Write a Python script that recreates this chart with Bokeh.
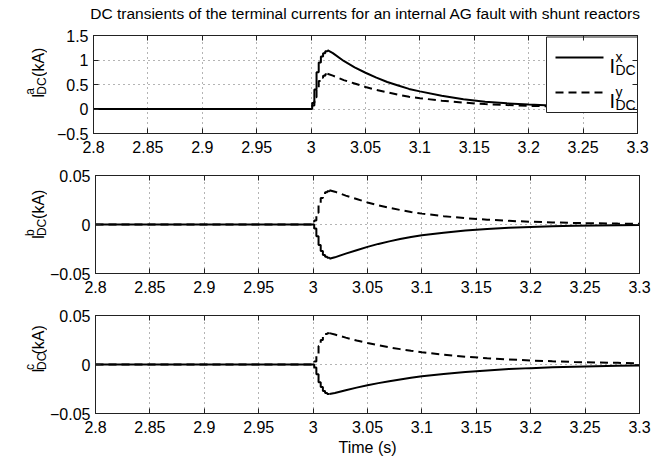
from bokeh.plotting import figure
from bokeh.layouts import column, row
from bokeh.models import Range1d, FixedTicker, LinearAxis, Label, CustomJSTickFormatter
from bokeh.embed import file_html
from bokeh.resources import INLINE

# ---------------- data ----------------
title_text = "DC transients of the terminal currents for an internal AG fault with shunt reactors"
x_ticks = [2.8, 2.85, 2.9, 2.95, 3.0, 3.05, 3.1, 3.15, 3.2, 3.25, 3.3]
x_tick_labels = ["2.8", "2.85", "2.9", "2.95", "3", "3.05", "3.1", "3.15", "3.2", "3.25", "3.3"]
ya_ticks = [-0.5, 0.0, 0.5, 1.0, 1.5]
ya_tick_labels = ["\u22120.5", "0", "0.5", "1", "1.5"]
ybc_ticks = [-0.05, 0.0, 0.05]
ybc_tick_labels = ["\u22120.05", "0", "0.05"]

# fault onset (staircase part)
t_rise = [2.800, 3.001, 3.003, 3.005, 3.007, 3.009, 3.011, 3.013, 3.015]
ia_x_rise = [0.0, 0.12, 0.40, 0.75, 0.95, 1.07, 1.14, 1.18, 1.20]
ia_y_rise = [0.0, 0.07, 0.24, 0.44, 0.57, 0.64, 0.68, 0.71, 0.72]
ib_x_rise = [0.0, -0.004, -0.012, -0.021, -0.027, -0.031, -0.033, -0.034, -0.035]
ib_y_rise = [0.0, 0.004, 0.012, 0.021, 0.027, 0.031, 0.033, 0.034, 0.035]
ic_x_rise = [0.0, -0.003, -0.010, -0.018, -0.023, -0.027, -0.029, -0.030, -0.030]
ic_y_rise = [0.0, 0.003, 0.011, 0.019, 0.025, 0.029, 0.031, 0.032, 0.032]

# decay part
t_decay = [3.015, 3.02, 3.03, 3.04, 3.05, 3.06, 3.07, 3.08, 3.09, 3.10,
           3.12, 3.14, 3.16, 3.18, 3.20, 3.22, 3.24, 3.26, 3.28, 3.30]
ia_x_decay = [1.20, 1.14, 0.98, 0.85, 0.74, 0.64, 0.55, 0.48, 0.41, 0.36,
              0.27, 0.20, 0.15, 0.115, 0.09, 0.07, 0.055, 0.045, 0.04, 0.035]
ia_y_decay = [0.72, 0.68, 0.59, 0.52, 0.45, 0.39, 0.34, 0.29, 0.25, 0.22,
              0.17, 0.13, 0.10, 0.08, 0.065, 0.055, 0.045, 0.04, 0.035, 0.03]
ib_x_decay = [-0.035, -0.0335, -0.0297, -0.0262, -0.0228, -0.0198, -0.0172, -0.0149, -0.0128, -0.0110,
              -0.0083, -0.0062, -0.0046, -0.0034, -0.0025, -0.0018, -0.0013, -0.0010, -0.0007, -0.0005]
ib_y_decay = [0.035, 0.0335, 0.0295, 0.026, 0.0225, 0.0195, 0.017, 0.0148, 0.0128, 0.0111,
              0.0085, 0.0064, 0.0049, 0.0037, 0.0028, 0.0021, 0.0016, 0.0012, 0.0009, 0.0007]
ic_x_decay = [-0.030, -0.0290, -0.0262, -0.0236, -0.0212, -0.0190, -0.0170, -0.0152, -0.0136, -0.0121,
              -0.0096, -0.0076, -0.0060, -0.0047, -0.0037, -0.0029, -0.0022, -0.0017, -0.0013, -0.0010]
ic_y_decay = [0.032, 0.0306, 0.0274, 0.0245, 0.0219, 0.0196, 0.0175, 0.0157, 0.014, 0.0125,
              0.010, 0.008, 0.0064, 0.0051, 0.0041, 0.0033, 0.0026, 0.0021, 0.0017, 0.0013]

# ---------------- style / layout ----------------
FONT = "Liberation Sans"
AX = "#222222"
W = 667
FW, FH = 544, 98          # frame size of each panel
LAB_W = 47                # width of the y-label strip
LEFT = 93                 # frame left edge in the page
TICK_FS = "16px"
DASH = "8 5"
LW = 2


def tick_formatter(tick_values, tick_texts):
    return CustomJSTickFormatter(args=dict(tv=tick_values, tl=tick_texts), code="""
        for (let i = 0; i < tv.length; i++) {
            if (Math.abs(tv[i] - tick) < 1e-9) { return tl[i]; }
        }
        return "";
    """)


def style_axis(ax, tick_values, tick_texts, show, standoff):
    ax.ticker = FixedTicker(ticks=tick_values)
    ax.formatter = tick_formatter(tick_values, tick_texts)
    ax.major_tick_in = 5
    ax.major_tick_out = 0
    ax.minor_tick_line_color = None
    ax.axis_line_color = AX
    ax.major_tick_line_color = AX
    ax.major_label_text_font = FONT
    if show:
        ax.major_label_text_color = "black"
        ax.major_label_text_font_size = TICK_FS
        ax.major_label_standoff = standoff
    else:
        ax.major_label_text_color = None
        ax.major_label_text_font_size = "0px"
        ax.major_label_standoff = 0


def blank_fig(w, h):
    f = figure(width=w, height=h, min_border=0, x_range=Range1d(0, w), y_range=Range1d(0, h),
               x_axis_type=None, y_axis_type=None, output_backend="svg", toolbar_location=None)
    f.grid.visible = False
    f.outline_line_color = None
    f.background_fill_color = "white"
    f.border_fill_color = "white"
    return f


def make_panel(ylo, yhi, yticks, ylabels, sup, xr, yr, xd, yd, b_top, b_bottom, xlabel=None):
    p = figure(frame_width=FW, frame_height=FH,
               min_border_left=LEFT - LAB_W, min_border_right=W - LEFT - FW,
               min_border_top=b_top, min_border_bottom=b_bottom,
               x_range=Range1d(2.8, 3.3), y_range=Range1d(ylo, yhi),
               output_backend="svg", toolbar_location=None)
    p.outline_line_color = AX
    p.background_fill_color = "white"
    p.border_fill_color = "white"

    xb = p.below[0]
    yl = p.left[0]
    style_axis(xb, x_ticks, x_tick_labels, True, 7)
    style_axis(yl, yticks, ylabels, True, 5)
    top = LinearAxis()
    style_axis(top, x_ticks, x_tick_labels, False, 0)
    p.add_layout(top, "above")
    right = LinearAxis()
    style_axis(right, yticks, ylabels, False, 0)
    p.add_layout(right, "right")

    p.xgrid.ticker = FixedTicker(ticks=x_ticks)
    p.ygrid.ticker = FixedTicker(ticks=yticks)
    for g in (p.xgrid, p.ygrid):
        g.grid_line_color = "#444444"
        g.grid_line_dash = "1 4"
        g.grid_line_width = 1
        g.grid_line_alpha = 0.8

    if xlabel:
        xb.axis_label = xlabel
        xb.axis_label_text_font = FONT
        xb.axis_label_text_font_size = TICK_FS
        xb.axis_label_text_font_style = "normal"
        xb.axis_label_text_color = "black"
        xb.axis_label_standoff = 3

    # data: solid = x terminal, dashed = y terminal
    p.step(xr[0], xr[1], mode="after", line_color="black", line_width=LW)
    p.line(xd[0], xd[1], line_color="black", line_width=LW)
    p.step(yr[0], yr[1], mode="after", line_color="black", line_width=LW, line_dash=DASH)
    p.line(yd[0], yd[1], line_color="black", line_width=LW, line_dash=DASH)

    # y-label strip:  I^sup_DC (kA), rotated
    h = b_top + FH + b_bottom
    s = blank_fig(LAB_W, h)
    base = b_bottom + 19
    parts = [("I", "16px", 37.5, base), (sup, "12px", 29, base + 4.5),
             ("DC", "12px", 41, base + 4.5), ("(kA)", "16px", 37.5, base + 29)]
    for txt, fs, xx, yy in parts:
        s.add_layout(Label(x=xx, y=yy, text=txt, angle=90, angle_units="deg",
                           text_font=FONT, text_font_size=fs, text_color="black",
                           text_align="left", text_baseline="alphabetic"))
    return p, row(s, p)


p1, r1 = make_panel(-0.5, 1.5, ya_ticks, ya_tick_labels, "a",
                    (t_rise, ia_x_rise), (t_rise, ia_y_rise),
                    (t_decay, ia_x_decay), (t_decay, ia_y_decay), 7, 30)
p2, r2 = make_panel(-0.05, 0.05, ybc_ticks, ybc_tick_labels, "b",
                    (t_rise, ib_x_rise), (t_rise, ib_y_rise),
                    (t_decay, ib_x_decay), (t_decay, ib_y_decay), 12, 30)
p3, r3 = make_panel(-0.05, 0.05, ybc_ticks, ybc_tick_labels, "c",
                    (t_rise, ic_x_rise), (t_rise, ic_y_rise),
                    (t_decay, ic_x_decay), (t_decay, ic_y_decay), 12, 44, xlabel="Time (s)")

# title strip
TH = 28
tfig = blank_fig(W, TH)
tfig.add_layout(Label(x=LEFT + FW / 2, y=TH - 13, text=title_text, text_font=FONT,
                      text_font_size="15.5px", text_color="black",
                      text_align="center", text_baseline="middle"))

# legend (panel 1), placed in pixel offsets from the frame's top-right corner
xe, ye = p1.x_range.end, p1.y_range.end
dx = (p1.x_range.end - p1.x_range.start) / FW
dy = (p1.y_range.end - p1.y_range.start) / FH
p1.quad(left=[xe - 91 * dx], right=[xe], top=[ye - 1.5 * dy], bottom=[ye - 77 * dy],
        fill_color="white", line_color=AX, line_width=1)
for i, (sup_txt, dash) in enumerate([("x", "solid"), ("y", DASH)]):
    ly = ye - (22 + 35 * i) * dy
    p1.line([xe - 82 * dx, xe - 34 * dx], [ly, ly], line_color="black", line_width=LW, line_dash=dash)
    bl = 30 + 35 * i
    p1.add_layout(Label(x=xe, y=ye, x_offset=-28, y_offset=-bl, text="I", text_font=FONT,
                        text_font_size="20px", text_color="black", text_baseline="alphabetic"))
    p1.add_layout(Label(x=xe, y=ye, x_offset=-22, y_offset=-(bl - 9), text=sup_txt, text_font=FONT,
                        text_font_size="14px", text_color="black", text_baseline="alphabetic"))
    p1.add_layout(Label(x=xe, y=ye, x_offset=-22, y_offset=-(bl + 4), text="DC", text_font=FONT,
                        text_font_size="14px", text_color="black", text_baseline="alphabetic"))

layout = column(tfig, r1, r2, r3)
open("out.html", "w").write(file_html(layout, INLINE))
